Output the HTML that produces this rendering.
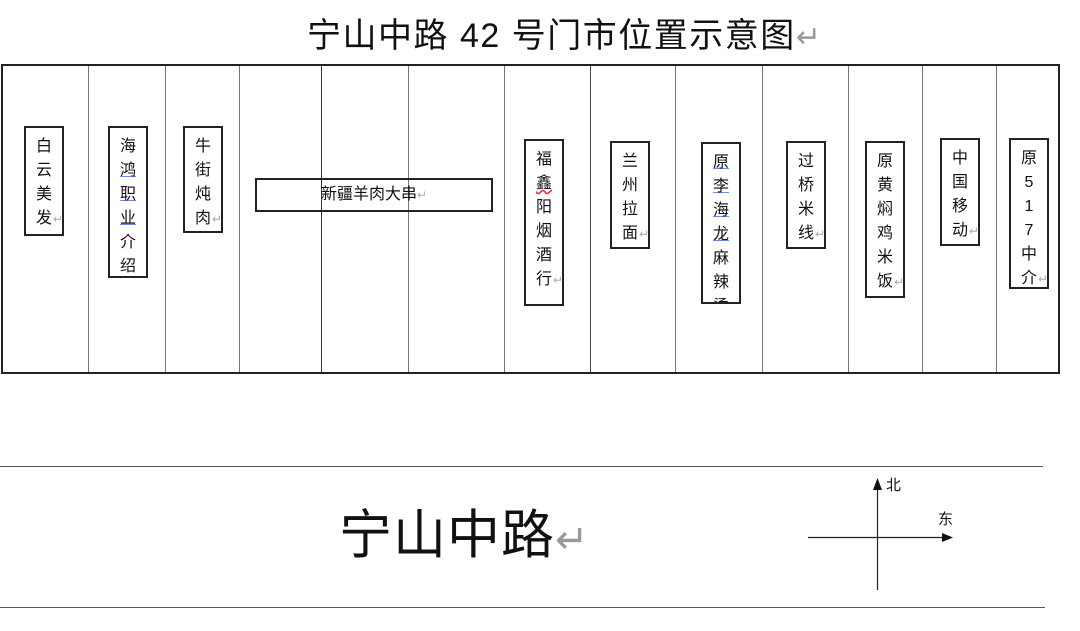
<!DOCTYPE html>
<html><head><meta charset="utf-8"><style>
body{margin:0;width:1080px;height:631px;background:#fff;position:relative;overflow:hidden;font-family:"Liberation Sans","Noto Sans CJK SC",sans-serif;color:#111}
.a{position:absolute}
.v{position:absolute;width:1px;background:#777;top:66px;height:306px}
.b{position:absolute;border:2px solid #222;box-sizing:border-box;text-align:center;font-size:16px;line-height:24px;padding-top:7px;width:40px;overflow:hidden}
.r{color:#aaa;font-size:12px;position:absolute;margin-left:1px}
.u{text-decoration:underline;text-decoration-color:#6a8fd8}
</style></head><body>
<div class="a" style="left:307px;top:14px;font-size:34px;line-height:44px;white-space:nowrap;letter-spacing:1.5px">宁山中路 42 号门市位置示意图<span style="color:#999;font-size:30px">↵</span></div>
<div class="a" style="left:1px;top:64px;width:1059px;height:310px;border:2px solid #222;box-sizing:border-box"></div>
<div class="v" style="left:88px"></div><div class="v" style="left:165px"></div><div class="v" style="left:239px"></div>
<div class="v" style="left:321px;background:#333"></div><div class="v" style="left:408px"></div><div class="v" style="left:504px"></div>
<div class="v" style="left:590px;background:#444"></div><div class="v" style="left:675px"></div><div class="v" style="left:762px"></div>
<div class="v" style="left:848px"></div><div class="v" style="left:922px"></div><div class="v" style="left:996px"></div>

<div class="b" style="left:24px;top:126px;height:110px">白<br>云<br>美<br>发<span class="r">↵</span></div>
<div class="b" style="left:108px;top:126px;height:152px">海<br><span class="u">鸿</span><br><span class="u">职</span><br><span class="u">业</span><br>介<br>绍</div>
<div class="b" style="left:183px;top:126px;height:107px">牛<br>街<br>炖<br>肉<span class="r">↵</span></div>
<div class="b" style="left:255px;top:178px;width:238px;height:34px;padding-top:3px;font-size:16px">新疆羊肉大串<span style="color:#aaa;font-size:12px">↵</span></div>
<div class="b" style="left:524px;top:139px;height:167px">福<br><span style="text-decoration:underline wavy #d33">鑫</span><br>阳<br>烟<br>酒<br>行<span class="r">↵</span></div>
<div class="b" style="left:610px;top:141px;height:108px">兰<br>州<br>拉<br>面<span class="r">↵</span></div>
<div class="b" style="left:701px;top:142px;height:162px"><span class="u">原</span><br><span class="u">李</span><br><span class="u">海</span><br><span class="u">龙</span><br>麻<br>辣<br>烫</div>
<div class="b" style="left:786px;top:141px;height:108px">过<br>桥<br>米<br>线<span class="r">↵</span></div>
<div class="b" style="left:865px;top:141px;height:157px">原<br>黄<br>焖<br>鸡<br>米<br>饭<span class="r">↵</span></div>
<div class="b" style="left:940px;top:138px;height:108px">中<br>国<br>移<br>动<span class="r">↵</span></div>
<div class="b" style="left:1009px;top:138px;height:151px">原<br>5<br>1<br>7<br>中<br>介<span class="r">↵</span></div>

<div class="a" style="left:0;top:466px;width:1043px;height:1px;background:#555"></div>
<div class="a" style="left:0;top:607px;width:1045px;height:1px;background:#555"></div>
<div class="a" style="left:339px;top:503px;font-size:53px;line-height:66px;white-space:nowrap;letter-spacing:1px">宁山中路<span style="color:#999;font-size:40px">↵</span></div>
<svg class="a" style="left:0;top:0" width="1080" height="631">
<line x1="877.5" y1="486" x2="877.5" y2="590" stroke="#222" stroke-width="1.2"/>
<polygon points="873,490 882,490 877.5,478" fill="#111"/>
<line x1="808" y1="537.5" x2="944" y2="537.5" stroke="#222" stroke-width="1.2"/>
<polygon points="942,533 942,542 953,537.5" fill="#111"/>
</svg>
<div class="a" style="left:886px;top:474px;font-size:15px">北</div>
<div class="a" style="left:938px;top:508px;font-size:15px">东</div>
</body></html>
